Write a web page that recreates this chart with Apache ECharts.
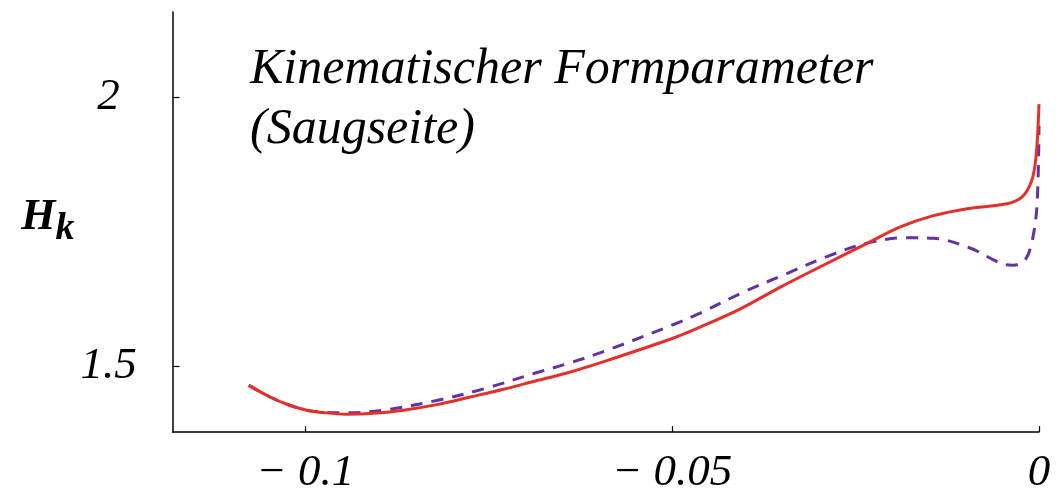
<!DOCTYPE html>
<html>
<head>
<meta charset="utf-8">
<script src="https://cdn.jsdelivr.net/npm/echarts@6/dist/echarts.min.js"></script>
<style>
  html, body { margin: 0; padding: 0; background: #fff; }
  #chart { width: 1059px; height: 496px; }
</style>
</head>
<body>
<div id="chart"></div>
<script>
// Kinematischer Formparameter H_k (Saugseite)
const xTicks = [-0.1, -0.05, 0];
const yTicks = [1.5, 2];

const xSolid = [-0.1077, -0.1048, -0.1025, -0.0998, -0.0971, -0.0944, -0.0912, -0.0866, -0.0821, -0.0775,
    -0.0730, -0.0684, -0.0641, -0.0589, -0.0498, -0.0462, -0.0407, -0.0353, -0.0294, -0.0235,
    -0.0189, -0.0144, -0.0098, -0.0044, -0.0023, -0.0010, -0.0004, 0];
const ySolid = [1.465, 1.4435, 1.430, 1.419, 1.414, 1.4116, 1.4127, 1.419, 1.4293, 1.4435,
    1.4577, 1.474, 1.489, 1.511, 1.553, 1.573, 1.607, 1.647, 1.688, 1.728,
    1.759, 1.780, 1.793, 1.802, 1.815, 1.845, 1.89, 1.987];

const xDashed = [-0.1077, -0.1048, -0.1025, -0.0998, -0.0971, -0.0944, -0.0889, -0.0821, -0.0753, -0.0684,
    -0.0641, -0.0589, -0.0498, -0.0462, -0.0403, -0.0348, -0.0289, -0.0235, -0.0180, -0.0144,
    -0.0094, -0.0062, -0.0046, -0.0035, -0.0019, -0.00095, -0.00027, 0];
const yDashed = [1.465, 1.4435, 1.430, 1.419, 1.415, 1.414, 1.420, 1.437, 1.460, 1.489,
    1.506, 1.530, 1.578, 1.599, 1.638, 1.670, 1.704, 1.729, 1.739, 1.738,
    1.720, 1.698, 1.689, 1.688, 1.698, 1.732, 1.80, 1.947];

const serif = '"Liberation Serif", "DejaVu Serif", serif';
const chart = echarts.init(document.getElementById('chart'));

const fmtX = v => {
    if (Math.abs(v) < 1e-9) return '0';
    return '\u2212 ' + String(Math.abs(v));
};

chart.setOption({
    backgroundColor: '#fff',
    animation: false,
    grid: { left: 172.5, right: 20, top: 12, bottom: 61 },
    xAxis: {
        type: 'value', min: -0.1181, max: 0,
        axisLine: { onZero: false, lineStyle: { color: '#000', width: 1.5 } },
        axisTick: { inside: true, length: 6, customValues: xTicks, lineStyle: { color: '#000', width: 1.2 } },
        axisLabel: {
            customValues: xTicks, formatter: fmtX, margin: 19,
            color: '#000', fontFamily: serif, fontStyle: 'italic', fontSize: 45
        },
        splitLine: { show: false }
    },
    yAxis: {
        type: 'value', min: 1.3785, max: 2.158,
        name: '{h|H}{k|k}', nameLocation: 'middle', nameRotate: 0, nameGap: 122,
        nameTextStyle: {
            align: 'center',
            rich: {
                h: { fontFamily: serif, fontStyle: 'italic', fontWeight: 'bold', fontSize: 44, color: '#000', lineHeight: 44, verticalAlign: 'top' },
                k: { fontFamily: serif, fontStyle: 'italic', fontWeight: 'bold', fontSize: 38, color: '#000', lineHeight: 52, verticalAlign: 'bottom' }
            }
        },
        axisLine: { show: true, onZero: false, lineStyle: { color: '#000', width: 1.5 } },
        axisTick: { show: true, inside: true, length: 7, customValues: yTicks, lineStyle: { color: '#000', width: 1.2 } },
        axisLabel: {
            customValues: yTicks, margin: 64, align: 'center',
            color: '#000', fontFamily: serif, fontStyle: 'italic', fontSize: 45
        },
        splitLine: { show: false }
    },
    graphic: [{
        type: 'text', left: 250, top: 40,
        style: {
            text: 'Kinematischer Formparameter\n(Saugseite)',
            font: 'italic 50px "Liberation Serif"', fill: '#000', lineHeight: 60
        }
    }],
    series: [
        {
            type: 'line', name: 'gestrichelt', showSymbol: false, smooth: 0.35,
            data: xDashed.map((x, i) => [x, yDashed[i]]),
            lineStyle: { color: '#6433a0', width: 3, type: [12, 9] }
        },
        {
            type: 'line', name: 'durchgezogen', showSymbol: false, smooth: 0.35,
            data: xSolid.map((x, i) => [x, ySolid[i]]),
            lineStyle: { color: '#e3302a', width: 3 }
        }
    ]
});
</script>
</body>
</html>
